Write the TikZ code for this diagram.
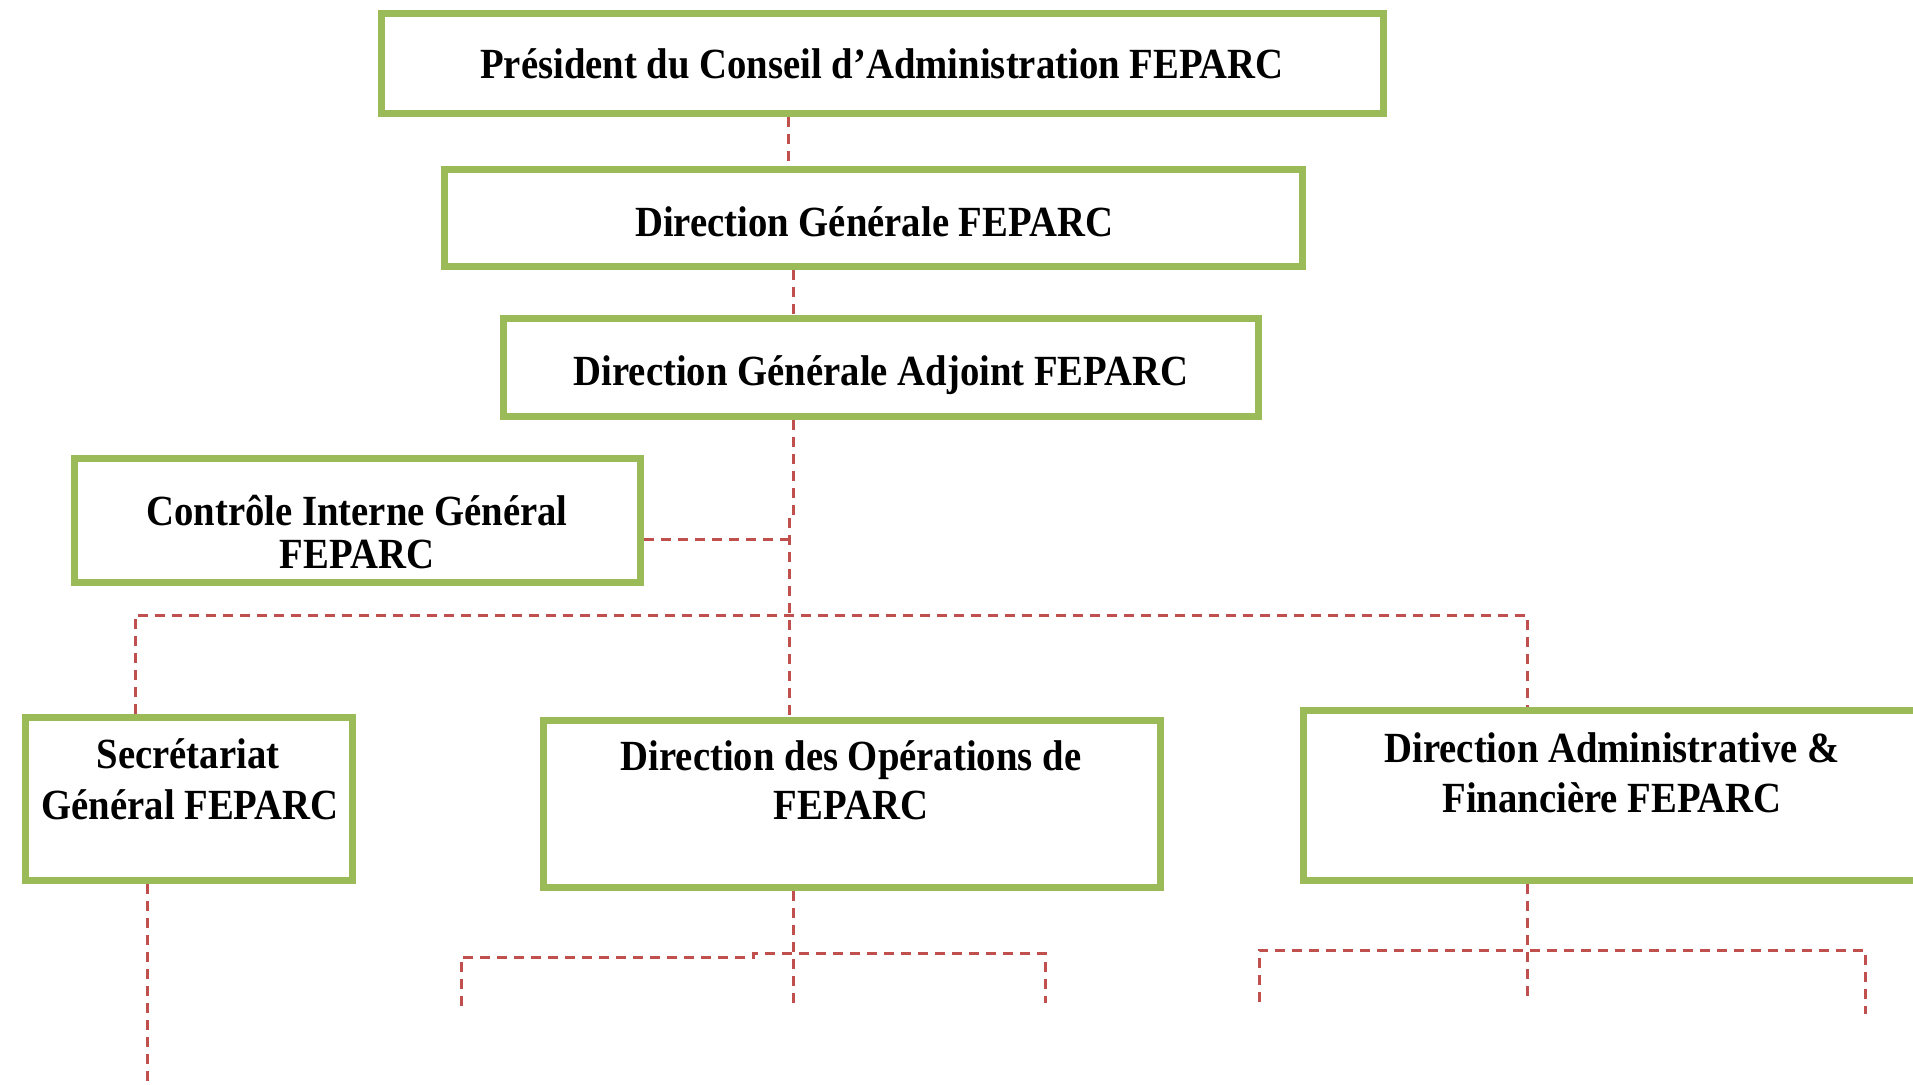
\documentclass[tikz,border=0pt]{standalone}
\usepackage{fontspec}
\setmainfont[FakeStretch=0.9]{Liberation Serif}
\definecolor{boxgreen}{HTML}{9BBB59}
\definecolor{linkred}{HTML}{C0504D}
\tikzset{
  orgbox/.style={draw=boxgreen, line width=7pt, fill=white, rectangle, inner sep=0pt},
  orgtext/.style={font=\fontsize{43}{50}\selectfont\bfseries, align=center, inner sep=0pt, anchor=base},
  link/.style={draw=linkred, line width=3pt, dash pattern=on 10pt off 7pt}
}
\begin{document}
\begin{tikzpicture}[x=1pt, y=-1pt]
\useasboundingbox (0,0) rectangle (1913,1084);
\fill[white] (0,0) rectangle (1913,1084);
\clip (0,0) rectangle (1913,1084);

% boxes
\node[orgbox, minimum width=1002pt, minimum height=100pt] (pca) at (882.5,63.5) {};
\node[orgbox, minimum width=858pt, minimum height=97pt] (dg) at (873.5,218) {};
\node[orgbox, minimum width=755pt, minimum height=98pt] (dga) at (881,367.5) {};
\node[orgbox, minimum width=566pt, minimum height=124pt] (cig) at (357.5,520.5) {};
\node[orgbox, minimum width=327pt, minimum height=163pt] (sg) at (189,799) {};
\node[orgbox, minimum width=617pt, minimum height=167pt] (dop) at (852,804) {};
\node[orgbox, minimum width=617pt, minimum height=170pt] (daf) at (1612,795.5) {};

% texts
\node[orgtext] (pca-t) at (882,78) {Président du Conseil d’Administration FEPARC};
\node[orgtext] (dg-t) at (874,236) {Direction Générale FEPARC};
\node[orgtext] (dga-t) at (881,385) {Direction Générale Adjoint FEPARC};
\node[orgtext] (cig-t1) at (357,525) {Contrôle Interne Général};
\node[orgtext] (cig-t2) at (357,568) {FEPARC};
\node[orgtext] (sg-t1) at (188,768) {Secrétariat};
\node[orgtext] (sg-t2) at (190,819) {Général FEPARC};
\node[orgtext] (dop-t1) at (851,770) {Direction des Opérations de};
\node[orgtext] (dop-t2) at (851,819) {FEPARC};
\node[orgtext] (daf-t1) at (1612,762) {Direction Administrative \&};
\node[orgtext] (daf-t2) at (1612,812) {Financière FEPARC};

% reference points of the dashed links
\coordinate (topA) at (788,0);
\coordinate (topB) at (793,0);
\coordinate (jogT) at (793,517);
\coordinate (jogB) at (789,517);
\coordinate (ciLink) at (789,539);
\coordinate (busL) at (135,615);
\coordinate (busM) at (789,615);
\coordinate (busR) at (1527,615);

% upper links
\draw[link] (pca.south -| topA) -- (dg.north -| topA);
\draw[link] (dg.south -| topB) -- (dga.north -| topB);
\draw[link] (dga.south -| topB) -- (jogT) -- (jogB) -- (dop.north -| jogB);
\draw[link] (cig.east |- ciLink) -- (ciLink);
\draw[link] (sg.north -| busL) -- (busL) -- (busR) -- (daf.north -| busR);

% links below the second row
\coordinate (sgEnd) at (147,1084);
\draw[link] (sg.south -| sgEnd) -- (sgEnd);

\coordinate (doEnd) at (793,1005);
\coordinate (doL1) at (461,1006);
\coordinate (doL2) at (461,957);
\coordinate (doS1) at (753,957);
\coordinate (doS2) at (753,953);
\coordinate (doR1) at (1045,953);
\coordinate (doR2) at (1045,1003);
\draw[link] (dop.south -| doEnd) -- (doEnd);
\draw[link] (doL1) -- (doL2) -- (doS1) -- (doS2) -- (doR1) -- (doR2);

\coordinate (daEnd) at (1527,996);
\coordinate (daL1) at (1259,1002);
\coordinate (daL2) at (1259,950);
\coordinate (daR1) at (1865,950);
\coordinate (daR2) at (1865,1014);
\draw[link] (daf.south -| daEnd) -- (daEnd);
\draw[link] (daL1) -- (daL2) -- (daR1) -- (daR2);
\end{tikzpicture}
\end{document}
